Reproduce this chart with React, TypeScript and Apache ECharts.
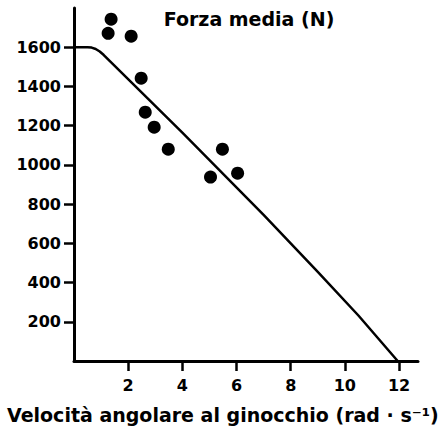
import { useEffect, useRef } from "react";
import * as echarts from "echarts";

const pointX = [1.37, 1.26, 2.11, 2.48, 2.63, 2.96, 3.48, 5.04, 5.48, 6.04];
const pointY = [1743, 1671, 1656, 1442, 1269, 1192, 1080, 938, 1080, 958];
const curveX = [0, 0.5, 0.65, 0.8, 0.95, 1.1, 4, 7, 9, 10.5, 11.95];
const curveY = [1600, 1600, 1598, 1591, 1578, 1560, 1165, 745, 455, 232, 0];
const xTicks = [2, 4, 6, 8, 10, 12];
const yTicks = [200, 400, 600, 800, 1000, 1200, 1400, 1600];
const titleText = "Forza media (N)";
const xName = "Velocità angolare al ginocchio (rad · s⁻¹)";

const FONT = "'DejaVu Sans', 'Liberation Sans', sans-serif";

export default function App() {
  const ref = useRef<HTMLDivElement>(null);
  useEffect(() => {
    if (!ref.current) return;
    const chart = echarts.init(ref.current, undefined, { renderer: "svg" });
    const axisCommon = {
      axisLine: { show: true, lineStyle: { color: "#000", width: 3 } },
      axisTick: { show: true, length: 10, lineStyle: { color: "#000", width: 2.5 } },
      splitLine: { show: false },
    };
    chart.setOption({
      animation: false,
      backgroundColor: "#fff",
      grid: { left: 74, right: 21, top: 8, bottom: 70 },
      xAxis: {
        type: "value",
        min: 0,
        max: 12.7,
        ...axisCommon,
        axisTick: { ...axisCommon.axisTick, customValues: xTicks },
        axisLabel: {
          customValues: xTicks,
          formatter: (v: number) => String(v),
          color: "#000",
          fontFamily: FONT,
          fontWeight: "bold",
          fontSize: 16,
          margin: 16,
        },
      },
      yAxis: {
        type: "value",
        min: 0,
        max: 1800,
        ...axisCommon,
        axisTick: { ...axisCommon.axisTick, customValues: yTicks },
        axisLabel: {
          customValues: yTicks,
          formatter: (v: number) => String(v),
          color: "#000",
          fontFamily: FONT,
          fontWeight: "bold",
          fontSize: 16,
          margin: 13,
        },
      },
      graphic: [
        {
          type: "text",
          x: 249,
          y: 19,
          style: {
            text: titleText,
            fill: "#000",
            font: `bold 19px ${FONT}`,
            textAlign: "center",
            textVerticalAlign: "middle",
          },
        },
        {
          type: "text",
          x: 7,
          y: 415,
          style: {
            text: xName,
            fill: "#000",
            font: `bold 19px ${FONT}`,
            textAlign: "left",
            textVerticalAlign: "middle",
          },
        },
      ],
      series: [
        {
          type: "line",
          data: curveX.map((x, i) => [x, curveY[i]]),
          showSymbol: false,
          lineStyle: { color: "#000", width: 2.5, join: "round" },
          z: 2,
        },
        {
          type: "scatter",
          data: pointX.map((x, i) => [x, pointY[i]]),
          symbolSize: 13,
          itemStyle: { color: "#000", opacity: 1 },
          z: 3,
        },
      ],
    });
    return () => chart.dispose();
  }, []);
  return (
    <div
      ref={ref}
      style={{ position: "fixed", left: 0, top: 0, width: 439, height: 431, background: "#fff" }}
    />
  );
}
